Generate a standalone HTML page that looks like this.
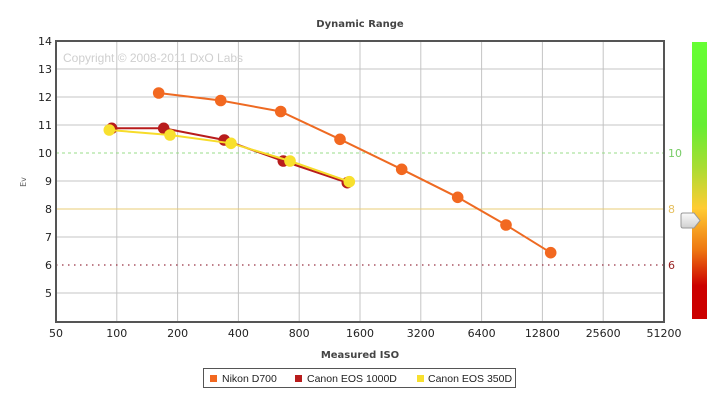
<!DOCTYPE html>
<html><head><meta charset="utf-8"><style>
html,body{margin:0;padding:0;background:#fff;}
svg{display:block;}
</style></head><body>
<svg width="720" height="403" viewBox="0 0 720 403" xmlns="http://www.w3.org/2000/svg">
<defs>
<linearGradient id="bar" x1="0" y1="0" x2="0" y2="1">
<stop offset="0" stop-color="#66ff33"/>
<stop offset="0.3" stop-color="#66ee33"/>
<stop offset="0.45" stop-color="#a8dd33"/>
<stop offset="0.6" stop-color="#ffcc33"/>
<stop offset="0.75" stop-color="#ee7711"/>
<stop offset="0.88" stop-color="#cc0000"/>
<stop offset="1" stop-color="#cc0000"/>
</linearGradient>
<linearGradient id="arr" x1="0" y1="0" x2="0" y2="1">
<stop offset="0" stop-color="#fafafa"/>
<stop offset="1" stop-color="#d0d0d0"/>
</linearGradient>
</defs>
<text x="360" y="27" text-anchor="middle" font-family="DejaVu Sans, sans-serif" font-weight="bold" font-size="10" fill="#444">Dynamic Range</text>

<!-- grid -->
<g stroke="#c4c4c4" stroke-width="1">
<line x1="56" y1="69" x2="664" y2="69"/>
<line x1="56" y1="97" x2="664" y2="97"/>
<line x1="56" y1="125" x2="664" y2="125"/>
<line x1="56" y1="181" x2="664" y2="181"/>
<line x1="56" y1="237" x2="664" y2="237"/>
<line x1="56" y1="293" x2="664" y2="293"/>
<line x1="116.8" y1="41" x2="116.8" y2="322"/>
<line x1="177.6" y1="41" x2="177.6" y2="322"/>
<line x1="238.4" y1="41" x2="238.4" y2="322"/>
<line x1="299.2" y1="41" x2="299.2" y2="322"/>
<line x1="360" y1="41" x2="360" y2="322"/>
<line x1="420.8" y1="41" x2="420.8" y2="322"/>
<line x1="481.6" y1="41" x2="481.6" y2="322"/>
<line x1="542.4" y1="41" x2="542.4" y2="322"/>
<line x1="603.2" y1="41" x2="603.2" y2="322"/>
</g>
<line x1="56" y1="153" x2="664" y2="153" stroke="#99dd88" stroke-width="1" stroke-dasharray="3,3"/>
<line x1="56" y1="209" x2="664" y2="209" stroke="#e8cc77" stroke-width="1"/>
<line x1="56" y1="265" x2="664" y2="265" stroke="#993344" stroke-width="1.3" stroke-dasharray="1.5,4.5"/>

<text x="63" y="62" font-family="Liberation Sans, sans-serif" font-size="12" fill="#cfcfcf">Copyright © 2008-2011 DxO Labs</text>

<!-- border -->
<rect x="56" y="41" width="608" height="281" fill="none" stroke="#555" stroke-width="2"/>

<!-- y labels -->
<g font-family="DejaVu Sans, sans-serif" font-size="11" fill="#222" text-anchor="end">
<text x="52" y="45">14</text>
<text x="52" y="73">13</text>
<text x="52" y="101">12</text>
<text x="52" y="129">11</text>
<text x="52" y="157">10</text>
<text x="52" y="185">9</text>
<text x="52" y="213">8</text>
<text x="52" y="241">7</text>
<text x="52" y="269">6</text>
<text x="52" y="297">5</text>
</g>
<g font-family="DejaVu Sans, sans-serif" font-size="11" fill="#222" text-anchor="middle">
<text x="56" y="337">50</text>
<text x="116.8" y="337">100</text>
<text x="177.6" y="337">200</text>
<text x="238.4" y="337">400</text>
<text x="299.2" y="337">800</text>
<text x="360" y="337">1600</text>
<text x="420.8" y="337">3200</text>
<text x="481.6" y="337">6400</text>
<text x="542.4" y="337">12800</text>
<text x="603.2" y="337">25600</text>
<text x="664" y="337">51200</text>
</g>
<text x="360" y="358" text-anchor="middle" font-family="DejaVu Sans, sans-serif" font-weight="bold" font-size="10" fill="#444">Measured ISO</text>
<text transform="translate(26,182) rotate(-90)" text-anchor="middle" font-family="DejaVu Sans, sans-serif" font-size="8" fill="#666">Ev</text>

<!-- right labels -->
<g font-family="DejaVu Sans, sans-serif" font-size="11">
<text x="668" y="157" fill="#77cc66">10</text>
<text x="668" y="213" fill="#e6c060">8</text>
<text x="668" y="269" fill="#992222">6</text>
</g>

<!-- Nikon D700 -->
<polyline fill="none" stroke="#ee6a22" stroke-width="2" points="158.7,93 220.7,100.5 280.7,111.5 340,139.3 401.7,169.3 457.7,197.3 506,225 550.7,252.7"/>
<g fill="#f26820">
<circle cx="158.7" cy="93" r="5.8"/><circle cx="220.7" cy="100.5" r="5.8"/><circle cx="280.7" cy="111.5" r="5.8"/><circle cx="340" cy="139.3" r="5.8"/><circle cx="401.7" cy="169.3" r="5.8"/><circle cx="457.7" cy="197.3" r="5.8"/><circle cx="506" cy="225" r="5.8"/><circle cx="550.7" cy="252.7" r="5.8"/>
</g>
<!-- Canon 1000D -->
<polyline fill="none" stroke="#b81c1c" stroke-width="2" points="111.7,128.3 163.7,128.3 224.3,140 283.3,161 347.3,182.7"/>
<g fill="#b81c1c">
<circle cx="111.7" cy="128.3" r="5.8"/><circle cx="163.7" cy="128.3" r="5.8"/><circle cx="224.3" cy="140" r="5.8"/><circle cx="283.3" cy="161" r="5.8"/><circle cx="347.3" cy="182.7" r="5.8"/>
</g>
<!-- Canon 350D -->
<polyline fill="none" stroke="#f7dc2a" stroke-width="2" points="109.3,130 170,135 231,143.3 290,161 349.3,181.7"/>
<g fill="#f8e02e">
<circle cx="109.3" cy="130" r="5.8"/><circle cx="170" cy="135" r="5.8"/><circle cx="231" cy="143.3" r="5.8"/><circle cx="290" cy="161" r="5.8"/><circle cx="349.3" cy="181.7" r="5.8"/>
</g>

<!-- color bar -->
<rect x="692" y="42" width="15" height="277" fill="url(#bar)"/>
<path d="M683,213 L694,213 L700,220.5 L694,228 L683,228 Q681,228 681,226 L681,215 Q681,213 683,213 Z" fill="url(#arr)" stroke="#999" stroke-width="1"/>

<!-- legend -->
<rect x="203.5" y="368.5" width="312" height="19" fill="#fff" stroke="#555" stroke-width="1"/>
<g font-family="Liberation Sans, sans-serif" font-size="10.5" fill="#222">
<rect x="210" y="375" width="7" height="7" fill="#f26820"/>
<text x="222" y="382">Nikon D700</text>
<rect x="295" y="375" width="7" height="7" fill="#b81c1c"/>
<text x="307" y="382">Canon EOS 1000D</text>
<rect x="417" y="375" width="7" height="7" fill="#f8e02e"/>
<text x="428" y="382">Canon EOS 350D</text>
</g>
</svg>
</body></html>
